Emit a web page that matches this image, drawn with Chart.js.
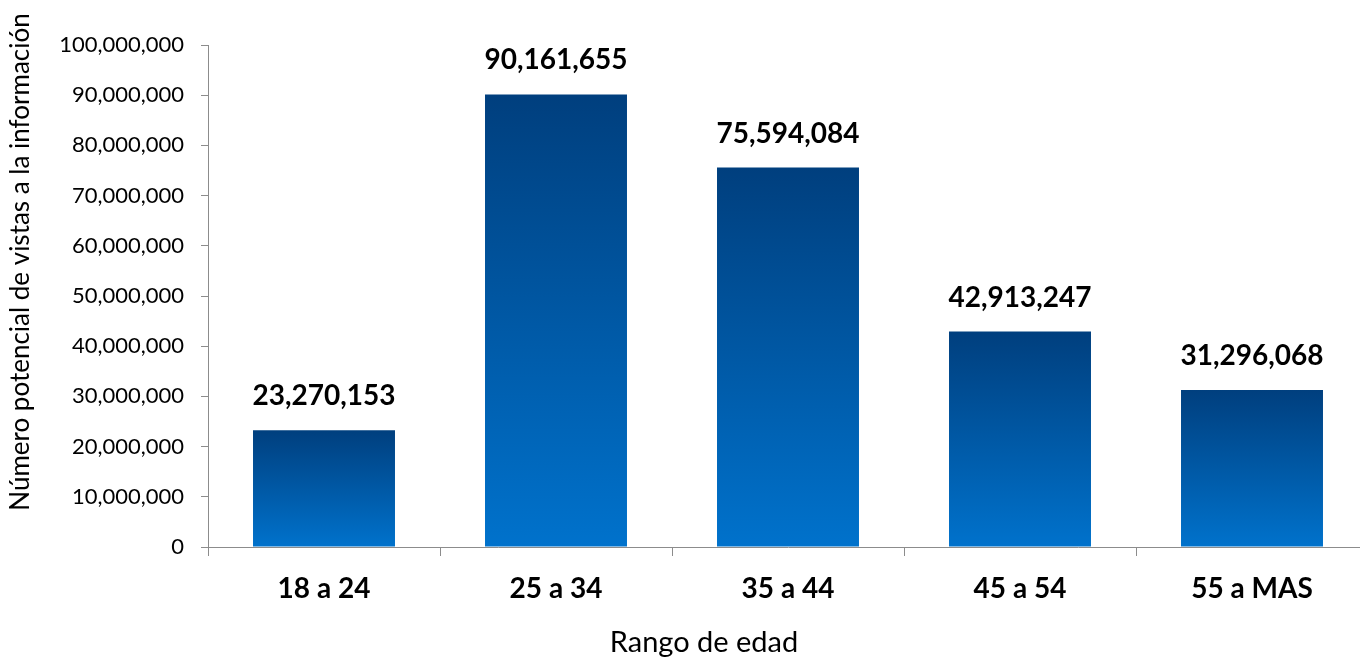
<!DOCTYPE html>
<html>
<head>
<meta charset="utf-8">
<script src="https://cdn.jsdelivr.net/npm/chart.js@4.4.0/dist/chart.umd.min.js"></script>
<style>
  html, body { margin: 0; padding: 0; background: #fff; overflow: hidden; }
  #wrap { width: 1370px; height: 659px; }
</style>
</head>
<body>
<div id="wrap"><canvas id="chart"></canvas></div>
<script>
const categories = ['18 a 24', '25 a 34', '35 a 44', '45 a 54', '55 a MAS'];
const views = [23270153, 90161655, 75594084, 42913247, 31296068];
const yMax = 100000000;
const yStep = 10000000;
const xTitle = 'Rango de edad';
const yTitle = 'Número potencial de vistas a la información';

const fontFamily = "Lato, 'Open Sans', sans-serif";

// per-bar vertical gradient, dark on top
function barGradient(context) {
  const chart = context.chart;
  const y = chart.scales.y;
  if (!y || context.dataIndex === undefined) return '#0058a0';
  const top = y.getPixelForValue(views[context.dataIndex]);
  const base = y.getPixelForValue(0);
  if (!isFinite(top) || !isFinite(base)) return '#0058a0';
  const g = chart.ctx.createLinearGradient(0, top, 0, base);
  g.addColorStop(0, '#003f7e');
  g.addColorStop(1, '#0072cc');
  return g;
}

const valueLabels = {
  id: 'valueLabels',
  afterDatasetsDraw(chart) {
    const ctx = chart.ctx;
    ctx.save();
    ctx.font = 'bold 28px ' + fontFamily;
    ctx.fillStyle = '#000';
    ctx.textAlign = 'center';
    ctx.textBaseline = 'middle';
    chart.getDatasetMeta(0).data.forEach((bar, i) => {
      ctx.fillText(views[i].toLocaleString('en-US'), bar.x, bar.y - 34);
    });
    ctx.restore();
  }
};

// axis titles, placed like the original (not centred on the axes)
const axisTitles = {
  id: 'axisTitles',
  afterDraw(chart) {
    const ctx = chart.ctx;
    ctx.save();
    ctx.fillStyle = '#000';
    ctx.textAlign = 'center';
    ctx.textBaseline = 'middle';
    ctx.font = '29px ' + fontFamily;
    ctx.fillText(xTitle, 704, 643);
    ctx.translate(21, 262);
    ctx.rotate(-Math.PI / 2);
    ctx.font = '26px ' + fontFamily;
    ctx.fillText(yTitle, 0, 0);
    ctx.restore();
  }
};

new Chart(document.getElementById('chart'), {
  type: 'bar',
  data: {
    labels: categories,
    datasets: [{
      data: views,
      backgroundColor: barGradient,
      borderWidth: 0,
      categoryPercentage: 0.612,
      barPercentage: 1
    }]
  },
  options: {
    responsive: true,
    maintainAspectRatio: false,
    animation: false,
    layout: { padding: { top: 45, right: 2, left: 0, bottom: 0 } },
    plugins: {
      legend: { display: false },
      tooltip: { enabled: false }
    },
    scales: {
      x: {
        grid: {
          drawOnChartArea: false,
          drawTicks: true,
          tickLength: 9,
          color: '#8c8c8c'
        },
        border: { color: '#8c8c8c', width: 1 },
        ticks: {
          color: '#000',
          font: { family: fontFamily, size: 28, weight: 'bold' },
          padding: 16
        },
        afterFit(scale) { scale.height = 112; }
      },
      y: {
        min: 0,
        max: yMax,
        grid: {
          drawOnChartArea: false,
          drawTicks: true,
          tickLength: 7,
          color: '#8c8c8c'
        },
        border: { color: '#8c8c8c', width: 1 },
        ticks: {
          stepSize: yStep,
          color: '#000',
          font: { family: fontFamily, size: 22 },
          padding: 17,
          callback: v => v.toLocaleString('en-US')
        },
        afterFit(scale) { scale.width = 208; }
      }
    }
  },
  plugins: [valueLabels, axisTitles]
});
</script>
</body>
</html>
